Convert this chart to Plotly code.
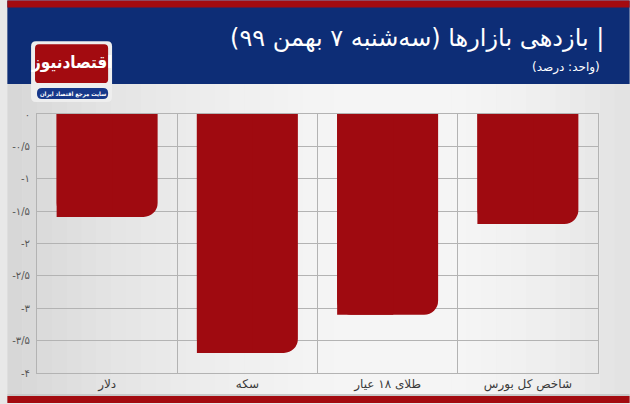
import plotly.graph_objects as go

# ---- data ----
categories = ["دلار", "سکه", "طلای ۱۸ عیار", "شاخص کل بورس"]
returns_pct = [-1.59, -3.69, -3.10, -1.70]
tick_values = [0, -0.5, -1, -1.5, -2, -2.5, -3, -3.5, -4]
tick_labels = ["۰", "-۰/۵", "-۱", "-۱/۵", "-۲", "-۲/۵", "-۳", "-۳/۵", "-۴"]
title_text = "\u202B| بازدهی بازارها (سه‌شنبه ۷ بهمن ۹۹)\u202C"
subtitle_text = "\u202B(واحد: درصد)\u202C"
logo_text = "اقتصادنیوز"
logo_tagline = "سایت مرجع اقتصاد ایران"

W, H = 630, 404
L, R, T, B = 30, 32, 114, 30
PW, PH = W - L - R, H - T - B

def px(x):
    return (x - L) / PW

def py(y):
    return (H - B - y) / PH

def rrect(x0, y0, x1, y1, r):
    rx, ry = r / PW, r / PH
    a, b, c, d = px(x0), py(y0), px(x1), py(y1)
    return (f"M{a+rx},{b} L{c-rx},{b} Q{c},{b} {c},{b-ry} L{c},{d+ry} Q{c},{d} {c-rx},{d} "
            f"L{a+rx},{d} Q{a},{d} {a},{d+ry} L{a},{b-ry} Q{a},{b} {a+rx},{b} Z")

BAR = "#9f0a10"
BLUE = "#0d2d76"
RED = "#a30b10"

fig = go.Figure()
fig.add_trace(go.Bar(x=categories, y=returns_pct, width=0.72, marker=dict(color=BAR, line=dict(width=0), cornerradius=14),
                     hoverinfo="skip", showlegend=False))
fig.add_trace(go.Bar(x=categories, y=returns_pct, width=0.4, offset=-0.36, marker=dict(color=BAR, line=dict(width=0)),
                     hoverinfo="skip", showlegend=False))

shapes = []
n = 42
for i in range(n):
    x0 = i * W / n
    x1 = (i + 1) * W / n
    t = (x0 + x1) / 2 / W
    if t < 0.65:
        v = 214 + (246 - 214) * (1 - (1 - t / 0.65) ** 2)
    else:
        v = 246 - (246 - 226) * ((t - 0.65) / 0.35) ** 2
    v = int(v)
    shapes.append(dict(type="rect", xref="paper", yref="paper", x0=px(x0), x1=px(x1 + 0.5), y0=py(H), y1=py(0),
                       fillcolor=f"rgb({v},{v},{v})", line=dict(width=0), layer="below"))
shapes.append(dict(type="rect", xref="paper", yref="paper", x0=px(0), x1=px(W), y0=py(84), y1=py(0),
                   fillcolor=BLUE, line=dict(width=0), layer="below"))
shapes.append(dict(type="rect", xref="paper", yref="paper", x0=px(0), x1=px(W), y0=py(7), y1=py(0),
                   fillcolor=RED, line=dict(width=0), layer="below"))
shapes.append(dict(type="rect", xref="paper", yref="paper", x0=px(0), x1=px(W), y0=py(397), y1=py(395),
                   fillcolor="#c8c8c8", line=dict(width=0), layer="below"))
shapes.append(dict(type="rect", xref="paper", yref="paper", x0=px(0), x1=px(W), y0=py(H), y1=py(397),
                   fillcolor=RED, line=dict(width=0), layer="below"))
shapes.append(dict(type="path", xref="paper", yref="paper", path=rrect(24, 41, 106, 102, 5),
                   fillcolor="#eeeeee", line=dict(width=0), layer="below"))
shapes.append(dict(type="path", xref="paper", yref="paper", path=rrect(28, 44, 102, 83, 4),
                   fillcolor=RED, line=dict(width=0), layer="below"))
shapes.append(dict(type="path", xref="paper", yref="paper", path=rrect(30, 88, 102, 99, 5),
                   fillcolor="#17388a", line=dict(width=0), layer="below"))

annotations = [
    dict(text=title_text, xref="paper", yref="paper", x=px(606), y=py(38), xanchor="right", yanchor="middle",
         showarrow=False, font=dict(family="DejaVu Sans", size=24, color="white")),
    dict(text=subtitle_text, xref="paper", yref="paper", x=px(602), y=py(67), xanchor="right", yanchor="middle",
         showarrow=False, font=dict(family="DejaVu Sans", size=12, color="white")),
    dict(text=f"<b>{logo_text}</b>", xref="paper", yref="paper", x=px(65), y=py(62), xanchor="center", yanchor="middle",
         showarrow=False, font=dict(family="DejaVu Sans Condensed", size=17, color="white")),
    dict(text=f"<b>{logo_tagline}</b>", xref="paper", yref="paper", x=px(66), y=py(93.5), xanchor="center", yanchor="middle",
         showarrow=False, font=dict(family="DejaVu Sans Condensed", size=6, color="white")),
]

fig.update_layout(
    width=W, height=H,
    margin=dict(l=L, r=R, t=T, b=B, pad=0),
    paper_bgcolor="#e8e8e8",
    plot_bgcolor="rgba(0,0,0,0)",
    barmode="overlay",
    shapes=shapes,
    annotations=annotations,
    font=dict(family="DejaVu Sans"),
    xaxis=dict(type="category", categoryorder="array", categoryarray=categories,
               tickson="boundaries", showgrid=True, gridcolor="#b3b3b3", gridwidth=1,
               showline=True, linecolor="#b3b3b3", mirror=True, ticks="", ticklen=0,
               tickfont=dict(family="DejaVu Sans", size=12, color="#3a3a3a"), fixedrange=True),
    yaxis=dict(range=[-4, 0], tickvals=tick_values, ticktext=tick_labels, showgrid=True,
               gridcolor="#b3b3b3", gridwidth=1, zeroline=False, showline=True, linecolor="#b3b3b3",
               mirror=True, ticks="", ticklabelstandoff=4,
               tickfont=dict(family="DejaVu Sans", size=10, color="#555555"), fixedrange=True),
)

fig.write_html("out.html", config={"displayModeBar": False},
               post_script="document.body.style.margin='0';document.body.style.overflow='hidden';")
